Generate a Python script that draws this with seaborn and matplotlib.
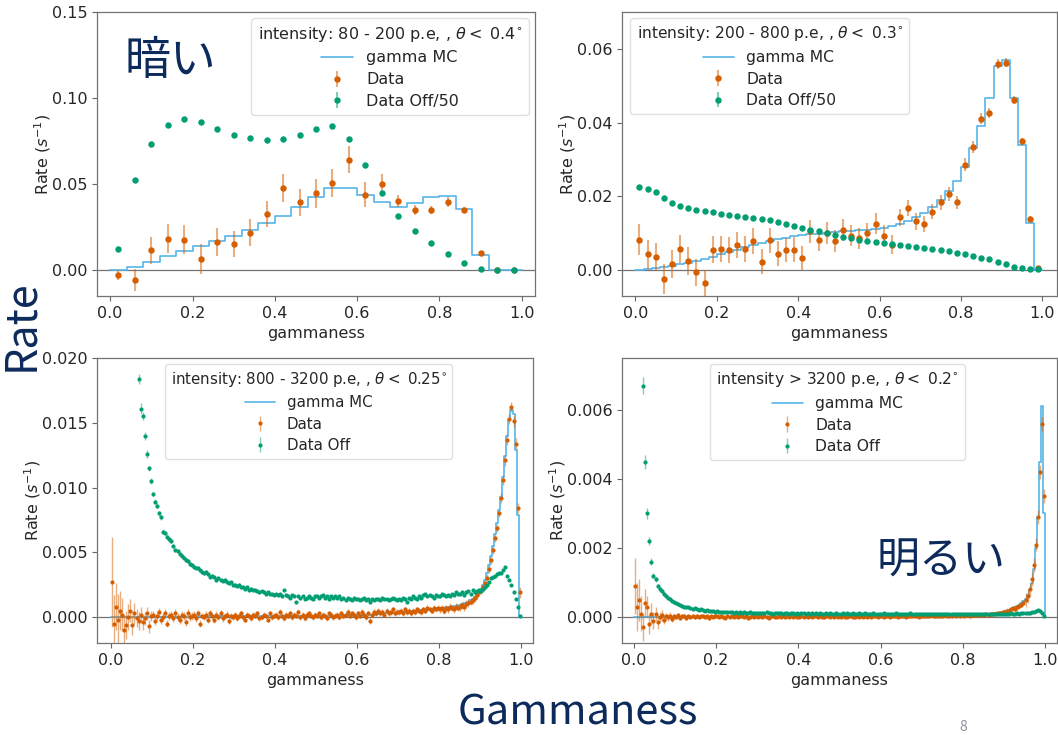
import numpy as np
import pandas as pd
import matplotlib
matplotlib.use("Agg")
import matplotlib.pyplot as plt
from matplotlib.ticker import MultipleLocator
import seaborn as sns

# ---------------------------------------------------------------- data
# Panel 1: intensity 80 - 200 p.e. (bin width 0.04)
tl_mc = [0.0, 0.0021, 0.0048, 0.0081, 0.0112, 0.0138, 0.0169, 0.0200, 0.0235, 0.0273,
         0.0317, 0.0365, 0.0423, 0.0475, 0.0479, 0.0438, 0.0394, 0.0369, 0.0390, 0.0423,
         0.0433, 0.0356, 0.0090, 0.0, 0.0]
tl_data = [-0.0029, -0.0058, 0.0115, 0.0183, 0.0177, 0.0065, 0.0163, 0.0150, 0.0217, 0.0327,
           0.0477, 0.0394, 0.0446, 0.0506, 0.0642, 0.0438, 0.0500, 0.0404, 0.0350, 0.0350,
           0.0396, 0.0352, 0.0100, 0.0, 0.0]
tl_data_err = [0.0030, 0.0065, 0.0078, 0.0085, 0.0085, 0.0085, 0.0080, 0.0075, 0.0078, 0.0075,
               0.0080, 0.0080, 0.0085, 0.0080, 0.0080, 0.0073, 0.0060, 0.0035, 0.0030, 0.0025,
               0.0027, 0.0015, 0.0012, 0.0, 0.0]
tl_off50 = [0.0125, 0.0523, 0.0733, 0.0842, 0.0879, 0.0860, 0.0819, 0.0787, 0.0767, 0.0754,
            0.0760, 0.0787, 0.0821, 0.0835, 0.0760, 0.0612, 0.0450, 0.0315, 0.0227, 0.0156,
            0.0092, 0.0042, 0.0006, 0.0, 0.0]
tl_off50_err = [0.0004, 0.0008, 0.0009, 0.0010, 0.0010, 0.0010, 0.0010, 0.0009, 0.0009, 0.0009,
                0.0009, 0.0009, 0.0009, 0.0009, 0.0009, 0.0008, 0.0007, 0.0006, 0.0005, 0.0004,
                0.0003, 0.0002, 0.0001, 0.0, 0.0]

# Panel 2: intensity 200 - 800 p.e. (bin width 0.02)
tr_mc = [0.0, 0.0003, 0.0006, 0.0009, 0.0012, 0.0016, 0.0020, 0.0026, 0.0031, 0.0037,
         0.0043, 0.0050, 0.0056, 0.0062, 0.0068, 0.0074, 0.0079, 0.0084, 0.0088, 0.0092,
         0.0095, 0.0097, 0.0099, 0.0101, 0.0103, 0.0105, 0.0106, 0.0108, 0.0110, 0.0112,
         0.0115, 0.0120, 0.0126, 0.0133, 0.0145, 0.0155, 0.0170, 0.0191, 0.0216, 0.0243,
         0.0279, 0.0331, 0.0391, 0.0466, 0.0553, 0.0569, 0.0467, 0.0340, 0.0129, 0.0]
tr_data = [0.0083, 0.0043, 0.0036, -0.0024, 0.0016, 0.0058, 0.0024, -0.0006, -0.0036, 0.0056,
           0.0058, 0.0054, 0.0068, 0.0058, 0.0079, 0.0023, 0.0081, 0.0045, 0.0054, 0.0056,
           0.0033, 0.0105, 0.0083, 0.0101, 0.0079, 0.0110, 0.0094, 0.0086, 0.0101, 0.0126,
           0.0094, 0.0069, 0.0143, 0.0168, 0.0132, 0.0125, 0.0159, 0.0184, 0.0207, 0.0184,
           0.0286, 0.0334, 0.0411, 0.0426, 0.0559, 0.0563, 0.0462, 0.0349, 0.0140, 0.0007]
tr_data_err = [0.0042, 0.0040, 0.0038, 0.0040, 0.0038, 0.0038, 0.0038, 0.0037, 0.0037, 0.0036,
               0.0036, 0.0035, 0.0035, 0.0035, 0.0035, 0.0034, 0.0034, 0.0033, 0.0033, 0.0033,
               0.0033, 0.0030, 0.0030, 0.0030, 0.0030, 0.0030, 0.0029, 0.0029, 0.0028, 0.0028,
               0.0028, 0.0026, 0.0024, 0.0022, 0.0022, 0.0021, 0.0021, 0.0020, 0.0019, 0.0018,
               0.0018, 0.0016, 0.0015, 0.0014, 0.0013, 0.0012, 0.0011, 0.0009, 0.0006, 0.0003]
tr_off50 = [0.0225, 0.0220, 0.0211, 0.0195, 0.0182, 0.0175, 0.0168, 0.0164, 0.0161, 0.0157,
            0.0153, 0.0150, 0.0148, 0.0144, 0.0141, 0.0139, 0.0135, 0.0130, 0.0126, 0.0121,
            0.0115, 0.0110, 0.0105, 0.0101, 0.0095, 0.0090, 0.0086, 0.0083, 0.0079, 0.0076,
            0.0074, 0.0070, 0.0068, 0.0065, 0.0062, 0.0060, 0.0058, 0.0054, 0.0051, 0.0047,
            0.0043, 0.0038, 0.0033, 0.0029, 0.0023, 0.0016, 0.0009, 0.0005, 0.0003, 0.0002]
tr_off50_err = [0.0003] * 40 + [0.0002] * 10

# Panel 3: intensity 800 - 3200 p.e. (bin width 0.005, rows of ten bins)
bl_mc = ([0.00004] * 40 + [0.00006] * 30 + [0.00008] * 30 +
         [0.00012] * 10 + [0.00015] * 10 + [0.00020] * 10 +
         [0.00025, 0.00026, 0.00027, 0.00028, 0.00029, 0.00030, 0.00031, 0.00032, 0.00033, 0.00034] +
         [0.00035, 0.00036, 0.00037, 0.00038, 0.00039, 0.00040, 0.00042, 0.00044, 0.00046, 0.00048] +
         [0.00050, 0.00052, 0.00054, 0.00056, 0.00058, 0.00060, 0.00062, 0.00064, 0.00066, 0.00068] +
         [0.00070, 0.00072, 0.00074, 0.00076, 0.00078, 0.00080, 0.00082, 0.00085, 0.00088, 0.00091] +
         [0.00095, 0.00100, 0.00106, 0.00112, 0.00120, 0.00130, 0.00142, 0.00156, 0.00172, 0.00190] +
         [0.0022, 0.0025, 0.0029, 0.0034, 0.0040, 0.0047, 0.0055, 0.0064, 0.0073, 0.0083] +
         [0.0093, 0.0108, 0.0124, 0.0140, 0.0152, 0.0160, 0.0157, 0.0129, 0.0079, 0.0])
bl_data = [
    0.0027, -0.0005, 0.0008, -0.0002, 0.0005, 0.0002, -0.0010, -0.0006, 0.0000, 0.0005,
    -0.0006, 0.0003, -0.0001, -0.0003, 0.0002, -0.0004, -0.0001, 0.0003, -0.0007, 0.0001,
    0.0002, -0.0003, 0.0001, 0.0004, -0.0002, 0.0000, 0.0003, -0.0005, 0.0001, 0.0002,
    -0.0001, 0.0003, 0.0000, -0.0002, 0.0002, 0.0001, -0.0004, 0.0003, 0.0000, 0.0001,
    0.0002, -0.0001, 0.0003, -0.0005, 0.0001, 0.0000, 0.0002, -0.0002, 0.0003, 0.0001,
    -0.0002, 0.0002, 0.0000, 0.0003, -0.0001, 0.0001, 0.0002, -0.0003, 0.0001, 0.0000,
    0.0002, -0.0001, 0.0001, 0.0003, 0.0000, -0.0002, 0.0002, 0.0001, -0.0001, 0.0002,
    0.0001, 0.0003, -0.0001, 0.0000, 0.0002, 0.0001, -0.0002, 0.0003, 0.0000, 0.0001,
    0.0002, 0.0000, 0.0004, 0.0001, -0.0001, 0.0002, 0.0001, 0.0003, 0.0000, 0.0002,
    0.0001, 0.0004, 0.0000, 0.0002, -0.0001, 0.0002, 0.0003, 0.0001, 0.0000, 0.0002,
    0.0001, 0.0003, 0.0000, 0.0002, 0.0001, -0.0001, 0.0003, 0.0002, 0.0000, 0.0001,
    0.0002, 0.0000, 0.0003, 0.0001, 0.0002, 0.0004, 0.0001, 0.0003, 0.0002, 0.0000,
    0.0003, 0.0001, 0.0004, 0.0002, 0.0000, 0.0003, -0.0003, 0.0002, 0.0004, 0.0003,
    0.0005, 0.0003, 0.0004, 0.0002, 0.0005, 0.0003, 0.0004, 0.0006, 0.0003, 0.0004,
    0.0004, 0.0005, 0.0003, 0.0006, 0.0004, 0.0005, 0.0003, 0.0005, 0.0004, 0.0006,
    0.0005, 0.0004, 0.0006, 0.0005, 0.0007, 0.0006, 0.0005, 0.0007, 0.0006, 0.0007,
    0.0006, 0.0007, 0.0005, 0.0007, 0.0006, 0.0008, 0.0007, 0.0006, 0.0008, 0.0007,
    0.0008, 0.0009, 0.0008, 0.0010, 0.0011, 0.0012, 0.0013, 0.0015, 0.0017, 0.0019,
    0.0021, 0.0023, 0.0026, 0.0030, 0.0037, 0.0044, 0.0052, 0.0061, 0.0069, 0.0080,
    0.0092, 0.0106, 0.0121, 0.0137, 0.0153, 0.0162, 0.0151, 0.0134, 0.0084, 0.0019]
bl_data_err_head = [0.0035, 0.0022, 0.0018, 0.0020, 0.0015, 0.0013, 0.0012, 0.0011, 0.0010, 0.0009,
                    0.0008, 0.0008, 0.0007, 0.0007, 0.0006, 0.0006, 0.0005, 0.0005, 0.0005, 0.0004]
bl_data_err_rows = [0.0003, 0.0003, 0.00025, 0.00025, 0.0002, 0.0002, 0.0002, 0.0002, 0.0002,
                    0.0002, 0.0002, 0.0002, 0.0002, 0.0002, 0.00025, 0.0003, 0.0003, 0.0004]
bl_off = [
    0.070, 0.060, 0.052, 0.046, 0.041, 0.037, 0.034, 0.031, 0.029, 0.027,
    0.0255, 0.0235, 0.0210, 0.0184, 0.0161, 0.0155, 0.0140, 0.0126, 0.0115, 0.0105,
    0.0095, 0.0089, 0.0086, 0.0080, 0.0077, 0.0066, 0.0065, 0.0062, 0.0060, 0.0059,
    0.0055, 0.0052, 0.0051, 0.0049, 0.0047, 0.0046, 0.0044, 0.0043, 0.0041, 0.0040,
    0.0039, 0.0038, 0.0038, 0.0036, 0.0035, 0.0034, 0.0035, 0.0033, 0.0031, 0.0032,
    0.0031, 0.0029, 0.0030, 0.0029, 0.0028, 0.0029, 0.0027, 0.0026, 0.0027, 0.0025,
    0.0025, 0.0024, 0.0025, 0.0023, 0.0023, 0.0022, 0.0023, 0.0021, 0.0022, 0.0021,
    0.0021, 0.0020, 0.0019, 0.0020, 0.0019, 0.0018, 0.0019, 0.0018, 0.0018, 0.0017,
    0.0018, 0.0017, 0.0018, 0.0016, 0.0021, 0.0017, 0.0016, 0.0015, 0.0017, 0.0016,
    0.0012, 0.0016, 0.0015, 0.0016, 0.0014, 0.0015, 0.0016, 0.0015, 0.0014, 0.0016,
    0.0016, 0.0015, 0.0016, 0.0017, 0.0015, 0.0016, 0.0014, 0.0016, 0.0015, 0.0016,
    0.0015, 0.0016, 0.0014, 0.0015, 0.0013, 0.0015, 0.0014, 0.0013, 0.0015, 0.0014,
    0.0014, 0.0013, 0.0014, 0.0015, 0.0013, 0.0014, 0.0012, 0.0014, 0.0013, 0.0014,
    0.0014, 0.0013, 0.0015, 0.0014, 0.0014, 0.0013, 0.0014, 0.0015, 0.0014, 0.0013,
    0.0014, 0.0013, 0.0015, 0.0014, 0.0012, 0.0015, 0.0014, 0.0016, 0.0015, 0.0014,
    0.0016, 0.0015, 0.0017, 0.0018, 0.0016, 0.0017, 0.0016, 0.0015, 0.0017, 0.0016,
    0.0016, 0.0018, 0.0017, 0.0016, 0.0017, 0.0016, 0.0018, 0.0017, 0.0019, 0.0018,
    0.0018, 0.0019, 0.0017, 0.0019, 0.0020, 0.0018, 0.0021, 0.0019, 0.0020, 0.0021,
    0.0020, 0.0022, 0.0023, 0.0025, 0.0027, 0.0030, 0.0031, 0.0032, 0.0033, 0.0034,
    0.0034, 0.0036, 0.0039, 0.0032, 0.0029, 0.0025, 0.0019, 0.0014, 0.0008, 0.0001]
bl_off_err_head = [0.0020, 0.0018, 0.0016, 0.0015, 0.0014, 0.0013, 0.0012, 0.0011, 0.0010, 0.0009,
                   0.0008, 0.0007, 0.0006, 0.0004, 0.0004, 0.0003, 0.0003, 0.0003, 0.0002, 0.0002]
bl_off_err_rows = [0.00018, 0.00015, 0.00012, 0.00010, 0.00010, 0.00008, 0.00008, 0.00008, 0.00008,
                   0.00008, 0.00008, 0.00008, 0.00008, 0.00008, 0.00008, 0.00008, 0.00008, 0.00008]

# Panel 4: intensity > 3200 p.e. (bin width 0.005, rows of ten bins)
br_mc = ([0.00001] * 100 + [0.00002] * 40 + [0.00003] * 20 +
         [0.00004, 0.00004, 0.00004, 0.00005, 0.00005, 0.00005, 0.00005, 0.00006, 0.00006, 0.00006] +
         [0.00006, 0.00007, 0.00008, 0.00009, 0.00010, 0.00011, 0.00012, 0.00013, 0.00014, 0.00015] +
         [0.00017, 0.00019, 0.00021, 0.00023, 0.00026, 0.00029, 0.00032, 0.00036, 0.00040, 0.00046] +
         [0.00053, 0.00063, 0.00078, 0.00100, 0.00140, 0.00200, 0.00290, 0.00450, 0.00610, 0.00300])
br_data = [
    0.00090, 0.00030, 0.00050, 0.00010, -0.00030, 0.00040, 0.00030, -0.00020, 0.00010, -0.00010,
    0.00010, -0.00015, 0.00000, 0.00005, -0.00008, 0.00003, 0.00000, 0.00004, -0.00005, 0.00002,
    0.00001, 0.00005, -0.00003, 0.00002, 0.00004, -0.00002, 0.00003, 0.00000, 0.00004, 0.00001,
    0.00003, -0.00001, 0.00002, 0.00004, 0.00000, 0.00003, -0.00002, 0.00002, 0.00001, 0.00003,
    0.00002, 0.00000, 0.00003, 0.00001, -0.00002, 0.00002, 0.00001, 0.00003, 0.00000, 0.00002,
    -0.00001, 0.00002, 0.00003, 0.00000, 0.00002, -0.00003, 0.00001, 0.00002, 0.00000, 0.00003,
    0.00001, 0.00003, 0.00000, 0.00002, 0.00001, -0.00002, 0.00002, 0.00003, 0.00000, 0.00001,
    0.00002, 0.00000, 0.00003, -0.00001, 0.00002, 0.00001, 0.00003, 0.00000, 0.00002, 0.00001,
    0.00000, 0.00002, 0.00001, 0.00003, -0.00001, 0.00002, 0.00000, 0.00002, 0.00003, 0.00001,
    0.00002, 0.00001, -0.00001, 0.00002, 0.00003, 0.00000, 0.00002, 0.00001, 0.00003, 0.00000,
    0.00001, 0.00003, 0.00001, 0.00000, 0.00002, 0.00003, 0.00001, -0.00001, 0.00002, 0.00001,
    0.00003, 0.00001, 0.00002, 0.00000, 0.00002, 0.00001, 0.00003, 0.00002, 0.00000, 0.00002,
    0.00002, 0.00000, 0.00003, 0.00002, 0.00001, 0.00003, 0.00002, 0.00004, 0.00001, 0.00002,
    0.00003, 0.00002, 0.00001, 0.00003, 0.00002, 0.00004, 0.00002, 0.00003, 0.00001, 0.00003,
    0.00002, 0.00004, 0.00003, 0.00002, 0.00005, 0.00003, 0.00002, 0.00004, 0.00003, 0.00004,
    0.00003, 0.00005, 0.00004, 0.00003, 0.00004, 0.00006, 0.00004, 0.00005, 0.00003, 0.00005,
    0.00004, 0.00006, 0.00005, 0.00004, 0.00006, 0.00005, 0.00007, 0.00005, 0.00006, 0.00007,
    0.00005, 0.00008, 0.00006, 0.00009, 0.00008, 0.00010, 0.00011, 0.00012, 0.00011, 0.00014,
    0.00015, 0.00017, 0.00019, 0.00022, 0.00025, 0.00024, 0.00028, 0.00032, 0.00036, 0.00042,
    0.00050, 0.00060, 0.00080, 0.00110, 0.00150, 0.00210, 0.00290, 0.00420, 0.00560, 0.00350]
br_data_err_head = [0.0008, 0.0007, 0.0006, 0.0005, 0.0004, 0.0004, 0.0003, 0.0003, 0.0003, 0.00025,
                    0.0002, 0.0002, 0.00015, 0.00015, 0.00012, 0.0001, 0.0001, 0.0001, 0.00008, 0.00008]
br_data_err_rows = [0.00006, 0.00005, 0.00004, 0.00004, 0.00004, 0.00004, 0.00004, 0.00004, 0.00004,
                    0.00004, 0.00004, 0.00004, 0.00004, 0.00004, 0.00004, 0.00005, 0.00008, 0.00020]
br_off = [
    0.03000, 0.02000, 0.01300, 0.00950, 0.00670, 0.00450, 0.00300, 0.00220, 0.00160, 0.00120,
    0.00110, 0.00090, 0.00080, 0.00075, 0.00068, 0.00062, 0.00056, 0.00051, 0.00047, 0.00043,
    0.00040, 0.00037, 0.00034, 0.00033, 0.00030, 0.00028, 0.00029, 0.00026, 0.00024, 0.00025,
    0.00023, 0.00021, 0.00022, 0.00020, 0.00019, 0.00020, 0.00018, 0.00017, 0.00018, 0.00016,
    0.00017, 0.00015, 0.00016, 0.00015, 0.00014, 0.00016, 0.00014, 0.00015, 0.00013, 0.00014,
    0.00013, 0.00015, 0.00012, 0.00014, 0.00013, 0.00012, 0.00014, 0.00013, 0.00011, 0.00013,
    0.00012, 0.00013, 0.00011, 0.00012, 0.00014, 0.00011, 0.00012, 0.00010, 0.00012, 0.00011,
    0.00011, 0.00012, 0.00010, 0.00013, 0.00011, 0.00010, 0.00012, 0.00011, 0.00009, 0.00011,
    0.00010, 0.00012, 0.00011, 0.00009, 0.00011, 0.00010, 0.00012, 0.00010, 0.00011, 0.00009,
    0.00011, 0.00010, 0.00009, 0.00011, 0.00010, 0.00012, 0.00009, 0.00010, 0.00011, 0.00010,
    0.00009, 0.00011, 0.00010, 0.00012, 0.00009, 0.00010, 0.00011, 0.00009, 0.00010, 0.00011,
    0.00010, 0.00009, 0.00011, 0.00010, 0.00008, 0.00010, 0.00011, 0.00009, 0.00010, 0.00009,
    0.00010, 0.00011, 0.00009, 0.00010, 0.00008, 0.00010, 0.00009, 0.00011, 0.00010, 0.00009,
    0.00009, 0.00010, 0.00008, 0.00010, 0.00011, 0.00009, 0.00010, 0.00008, 0.00009, 0.00010,
    0.00009, 0.00008, 0.00010, 0.00009, 0.00010, 0.00008, 0.00009, 0.00010, 0.00009, 0.00008,
    0.00009, 0.00010, 0.00008, 0.00009, 0.00008, 0.00010, 0.00009, 0.00008, 0.00009, 0.00010,
    0.00008, 0.00009, 0.00010, 0.00008, 0.00009, 0.00008, 0.00010, 0.00009, 0.00008, 0.00009,
    0.00009, 0.00008, 0.00009, 0.00010, 0.00008, 0.00009, 0.00010, 0.00009, 0.00008, 0.00010,
    0.00009, 0.00010, 0.00009, 0.00011, 0.00010, 0.00009, 0.00011, 0.00010, 0.00012, 0.00011,
    0.00012, 0.00013, 0.00012, 0.00014, 0.00016, 0.00018, 0.00020, 0.00017, 0.00013, 0.00004]
br_off_err_head = [0.0020, 0.0015, 0.0010, 0.0006, 0.00025, 0.0002, 0.00015, 0.00012, 0.0001, 0.00008,
                   0.00007, 0.00006, 0.00006, 0.00005, 0.00005, 0.00005, 0.00004, 0.00004, 0.00004, 0.00004]
br_off_err_rows = [0.00003] * 18

panel_titles = [
    r"intensity: 80 - 200 p.e, , $\theta <$ 0.4$^{\circ}$",
    r"intensity: 200 - 800 p.e, , $\theta <$ 0.3$^{\circ}$",
    r"intensity: 800 - 3200 p.e, , $\theta <$ 0.25$^{\circ}$",
    r"intensity > 3200 p.e, , $\theta <$ 0.2$^{\circ}$",
]
off_labels = ["Data Off/50", "Data Off/50", "Data Off", "Data Off"]

# ---------------------------------------------------------------- style
FS = 11.5
sns.set_theme(style="ticks", palette="colorblind")
plt.rcParams.update({
    "font.family": ["DejaVu Sans"],
    "font.size": FS,
    "axes.labelsize": FS,
    "xtick.labelsize": FS,
    "ytick.labelsize": FS,
    "legend.fontsize": FS,
    "legend.title_fontsize": FS,
    "axes.edgecolor": "0.45",
    "axes.linewidth": 0.9,
    "xtick.color": "0.4",
    "ytick.color": "0.4",
    "xtick.labelcolor": "0.15",
    "ytick.labelcolor": "0.15",
    "axes.labelcolor": "0.15",
    "xtick.major.size": 3.5,
    "ytick.major.size": 3.5,
    "xtick.major.width": 0.8,
    "ytick.major.width": 0.8,
})
palette = sns.color_palette("colorblind")
mc_color = palette[9]
data_color = palette[3]
off_color = palette[2]
navy = "#0d2a5c"

W, H = 1058, 735
fig = plt.figure(figsize=(W / 100, H / 100), dpi=100)


def px_axes(x0, y0, x1, y1):
    return fig.add_axes([x0 / W, 1 - y1 / H, (x1 - x0) / W, (y1 - y0) / H])


def fill_rows(head, rows):
    return np.concatenate([head, np.repeat(rows, 10)])


def draw_panel(ax, nbins, mc, data, data_err, off, off_err, title, off_label,
               ms, elw, loc, anchor, legend_fs):
    edges = np.linspace(0.0, 1.0, nbins + 1)
    centers = 0.5 * (edges[:-1] + edges[1:])
    ax.axhline(0.0, color="0.45", lw=0.9, zorder=0)
    mc_frame = pd.DataFrame({"gammaness": edges, "rate": list(mc) + [0.0]})
    sns.lineplot(data=mc_frame, x="gammaness", y="rate", ax=ax, color=mc_color,
                 lw=1.2, drawstyle="steps-post", estimator=None, sort=False,
                 label="gamma MC", zorder=2)
    ax.errorbar(centers, data, yerr=data_err, fmt="o", ms=ms, color=data_color,
                ecolor=(*data_color, 0.5), elinewidth=elw, lw=0, label="Data", zorder=3)
    ax.errorbar(centers, off, yerr=off_err, fmt="o", ms=ms, color=off_color,
                ecolor=(*off_color, 0.5), elinewidth=elw, lw=0, label=off_label, zorder=3)
    ax.set_xlabel("gammaness")
    ax.set_ylabel(r"Rate ($s^{-1}$)", labelpad=-1)
    ax.xaxis.set_major_locator(MultipleLocator(0.2))
    ax.legend(title=title, loc=loc, bbox_to_anchor=anchor, frameon=True,
              framealpha=0.8, edgecolor="0.85", fancybox=True, handlelength=2.0,
              borderaxespad=0.4, labelspacing=0.42,
              fontsize=legend_fs, title_fontsize=legend_fs)


ax1 = px_axes(97, 12, 535, 296)
draw_panel(ax1, 25, tl_mc, tl_data, tl_data_err, tl_off50, tl_off50_err,
           panel_titles[0], off_labels[0], 3.6, 1.5, "upper right", (1.0, 1.0), 11.5)
ax1.set_xlim(-0.032, 1.032)
ax1.set_ylim(-0.015, 0.15)
ax1.yaxis.set_major_locator(MultipleLocator(0.05))

ax2 = px_axes(622, 12, 1057, 296)
draw_panel(ax2, 50, tr_mc, tr_data, tr_data_err, tr_off50, tr_off50_err,
           panel_titles[1], off_labels[1], 3.6, 1.5, "upper left", (0.005, 1.0), 11.2)
ax2.set_xlim(-0.033, 1.036)
ax2.set_ylim(-0.007, 0.07)
ax2.yaxis.set_major_locator(MultipleLocator(0.02))

ax3 = px_axes(97, 358, 533, 643)
draw_panel(ax3, 200, bl_mc, bl_data, fill_rows(bl_data_err_head, bl_data_err_rows),
           bl_off, fill_rows(bl_off_err_head, bl_off_err_rows),
           panel_titles[2], off_labels[2], 2.0, 1.0, "upper center", (0.485, 1.0), 10.8)
ax3.set_xlim(-0.034, 1.03)
ax3.set_ylim(-0.002, 0.020)
ax3.yaxis.set_major_locator(MultipleLocator(0.005))

ax4 = px_axes(622, 358, 1057, 643)
draw_panel(ax4, 200, br_mc, br_data, fill_rows(br_data_err_head, br_data_err_rows),
           br_off, fill_rows(br_off_err_head, br_off_err_rows),
           panel_titles[3], off_labels[3], 2.0, 1.0, "upper center", (0.495, 1.0), 11.2)
ax4.set_xlim(-0.029, 1.029)
ax4.set_ylim(-0.00075, 0.0075)
ax4.yaxis.set_major_locator(MultipleLocator(0.002))

# slide annotations
cjk = ["Noto Sans CJK JP", "DejaVu Sans"]
fig.text(170 / W, 1 - 61 / H, "暗い", fontsize=33, color=navy, ha="center", va="center", family=cjk)
fig.text(941 / W, 1 - 562 / H, "明るい", fontsize=31, color=navy, ha="center", va="center", family=cjk)
fig.text(21 / W, 1 - 325 / H, "Rate", fontsize=31, color=navy, rotation=90,
         ha="center", va="center", family=cjk)
fig.text(578 / W, 1 - 713 / H, "Gammaness", fontsize=30, color=navy, ha="center", va="center", family=cjk)
fig.text(963 / W, 1 / H, "8", fontsize=10, color="#8c929c", ha="center", va="bottom", family=cjk)

fig.savefig("out.png", dpi=100)
